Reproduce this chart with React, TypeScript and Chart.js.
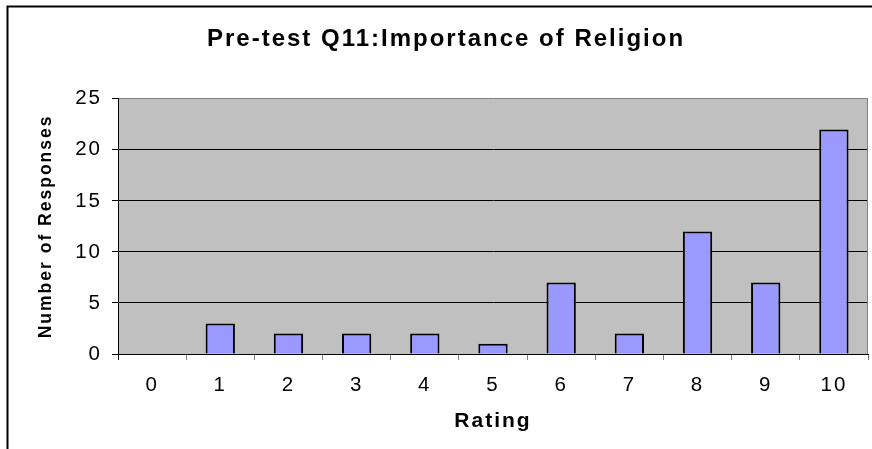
import React, { useEffect, useRef } from 'react';
import { Chart, registerables } from 'chart.js';

Chart.register(...registerables);

const TITLE = 'Pre-test Q11:Importance of Religion';
const X_TITLE = 'Rating';
const Y_TITLE = 'Number of Responses';
const RATINGS = ['0', '1', '2', '3', '4', '5', '6', '7', '8', '9', '10'];
const RESPONSES = [0, 3, 2, 2, 2, 1, 7, 2, 12, 7, 22];
const Y_MIN = 0;
const Y_MAX = 25;
const Y_STEP = 5;

const FONT = "'Liberation Sans', Arial, Helvetica, sans-serif";

const framePlugin = {
  id: 'excelFrame',
  beforeDraw(chart: any) {
    const ctx = chart.ctx;
    const a = chart.chartArea;
    ctx.letterSpacing = '2px';
    ctx.save();
    ctx.fillStyle = '#C0C0C0';
    ctx.fillRect(a.left, a.top, a.right - a.left, a.bottom - a.top);
    ctx.restore();
  },
  beforeDatasetsDraw(chart: any) {
    const ctx = chart.ctx;
    const a = chart.chartArea;
    ctx.save();
    ctx.strokeStyle = '#808080';
    ctx.lineWidth = 1;
    ctx.beginPath();
    const rx = Math.round(a.right) - 0.5;
    ctx.moveTo(rx, Math.round(a.top));
    ctx.lineTo(rx, Math.round(a.bottom));
    ctx.stroke();
    ctx.restore();
  },
  afterDraw(chart: any) {
    const ctx = chart.ctx;
    ctx.save();
    ctx.strokeStyle = '#000000';
    ctx.lineWidth = 2;
    ctx.strokeRect(7.5, 6.5, 2000, 2000);
    ctx.restore();
  },
};

export default function App() {
  const ref = useRef<HTMLCanvasElement | null>(null);

  useEffect(() => {
    if (!ref.current) return;
    const chart = new Chart(ref.current, {
      type: 'bar',
      data: {
        labels: RATINGS,
        datasets: [
          {
            data: RESPONSES,
            backgroundColor: '#9999FF',
            borderColor: '#000000',
            borderWidth: 2,
            barPercentage: 0.43,
            categoryPercentage: 1,
          },
        ],
      },
      plugins: [framePlugin],
      options: {
        responsive: false,
        animation: false,
        devicePixelRatio: 1,
        layout: { padding: { left: 24, right: 4, top: 0, bottom: 0 } },
        plugins: {
          legend: { display: false },
          tooltip: { enabled: false },
          title: {
            display: true,
            text: TITLE,
            color: '#000000',
            font: { family: FONT, size: 24, weight: 'bold' },
            padding: { top: 25, bottom: 45 },
          },
        },
        scales: {
          x: {
            type: 'category',
            offset: true,
            afterFit: (s: any) => {
              s.height = 95;
            },
            grid: {
              offset: true,
              drawOnChartArea: false,
              drawTicks: true,
              tickLength: 6,
              tickColor: (c: any) => (c.index === 0 ? '#000000' : '#808080'),
            },
            border: { display: true, color: '#000000', width: 1 },
            ticks: {
              color: '#000000',
              font: { family: FONT, size: 20.5 },
              padding: 13,
              maxRotation: 0,
            },
            title: {
              display: true,
              text: X_TITLE,
              color: '#000000',
              font: { family: FONT, size: 21, weight: 'bold' },
              padding: { top: 0, bottom: 15 },
            },
          },
          y: {
            min: Y_MIN,
            max: Y_MAX,
            afterFit: (s: any) => {
              s.width = 94;
            },
            grid: {
              color: (c: any) => (c.tick && c.tick.value === Y_MAX ? '#808080' : '#000000'),
              lineWidth: 1,
              drawTicks: true,
              tickLength: 6,
              tickColor: '#000000',
            },
            border: { display: true, color: '#000000', width: 1 },
            ticks: {
              stepSize: Y_STEP,
              color: '#000000',
              font: { family: FONT, size: 20.5 },
              padding: 10,
            },
            title: {
              display: true,
              text: Y_TITLE,
              color: '#000000',
              font: { family: FONT, size: 17.5, weight: 'bold' },
              padding: { top: 12, bottom: 0 },
            },
          },
        },
      } as any,
    });
    return () => chart.destroy();
  }, []);

  return (
    <div style={{ position: 'fixed', left: 0, top: 0, width: 872, height: 449, background: '#ffffff' }}>
      <canvas ref={ref} width={872} height={449} style={{ display: 'block', width: 872, height: 449 }} />
    </div>
  );
}
